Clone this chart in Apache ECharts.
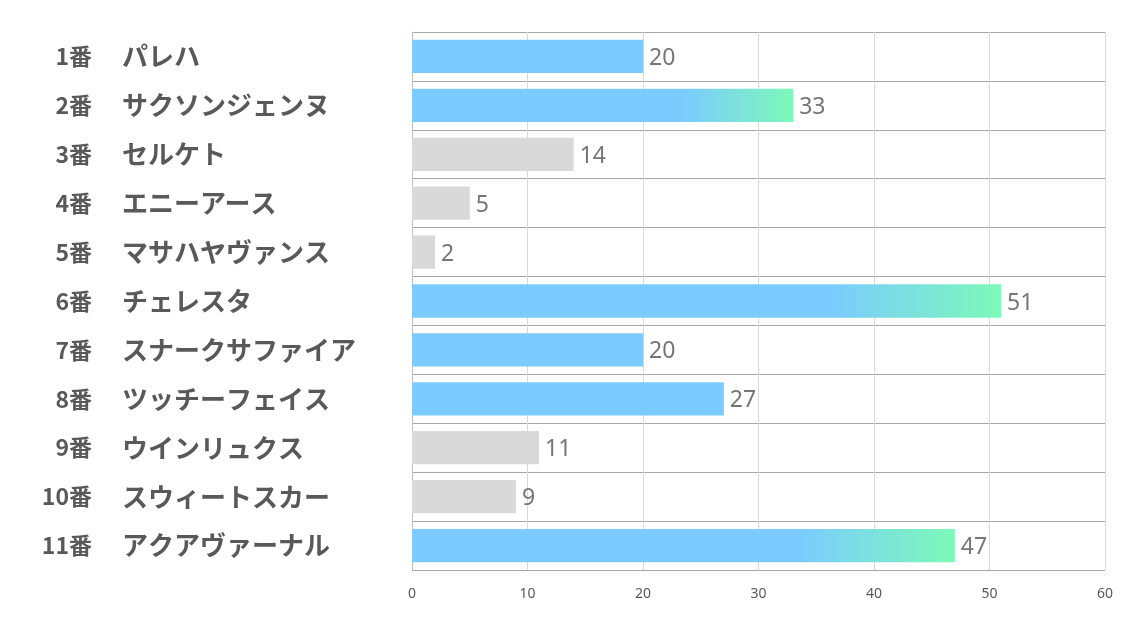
<!DOCTYPE html>
<html><head><meta charset="utf-8">
<script src="https://cdn.jsdelivr.net/npm/echarts@6/dist/echarts.min.js"></script>
<style>html,body{margin:0;padding:0;background:#fff}#c{width:1134px;height:623px}</style>
</head><body><div id="c"></div>
<script>
const nums = ['1番','2番','3番','4番','5番','6番','7番','8番','9番','10番','11番'];
const names = ['パレハ','サクソンジェンヌ','セルケト','エニーアース','マサハヤヴァンス','チェレスタ','スナークサファイア','ツッチーフェイス','ウインリュクス','スウィートスカー','アクアヴァーナル'];
const values = [20,33,14,5,2,51,20,27,11,9,47];
const kinds = ['blue','grad','gray','gray','gray','grad','blue','blue','gray','gray','grad'];
const xTicks = [0,10,20,30,40,50,60];

const BLUE = '#7BCBFE', GREEN = '#7DF9B8', GRAY = '#D9D9D9';
function colorFor(k){
  if (k === 'gray') return GRAY;
  if (k === 'blue') return BLUE;
  return new echarts.graphic.LinearGradient(0,0,1,0,[
    {offset:0,color:BLUE},{offset:0.71,color:BLUE},{offset:1,color:GREEN}]);
}
const labelFont = {fontWeight:'bold',color:'#595959',fontFamily:'Noto Sans CJK JP'};
const chart = echarts.init(document.getElementById('c'));
chart.setOption({
  animation:false,
  grid:{left:412,right:29,top:32,bottom:53,containLabel:false},
  xAxis:{type:'value',min:xTicks[0],max:xTicks[xTicks.length-1],interval:10,
    axisLine:{show:false},axisTick:{show:false},
    axisLabel:{color:'#595959',fontSize:14,margin:17,fontFamily:'Noto Sans'},
    splitLine:{show:true,lineStyle:{color:'#D9D9D9',width:1}}},
  yAxis:[
    {type:'category',inverse:true,data:nums,position:'left',
      axisLine:{show:true,lineStyle:{color:'#BFBFBF'}},axisTick:{show:false},
      splitLine:{show:true,lineStyle:{color:'#A6A6A6',width:1}},
      axisLabel:Object.assign({align:'right',margin:320,fontSize:23},labelFont)},
    {type:'category',inverse:true,data:names,position:'left',offset:0,
      axisLine:{show:false},axisTick:{show:false},splitLine:{show:false},
      axisLabel:Object.assign({align:'left',margin:290,fontSize:26},labelFont)}
  ],
  series:[{type:'bar',yAxisIndex:0,barCategoryGap:'32%',
    data:values.map((v,i)=>({value:v,itemStyle:{color:colorFor(kinds[i])}})),
    label:{show:true,position:'right',distance:6,offset:[0,2],color:'#767676',fontSize:23,fontFamily:'Noto Sans'}}]
});
</script></body></html>
